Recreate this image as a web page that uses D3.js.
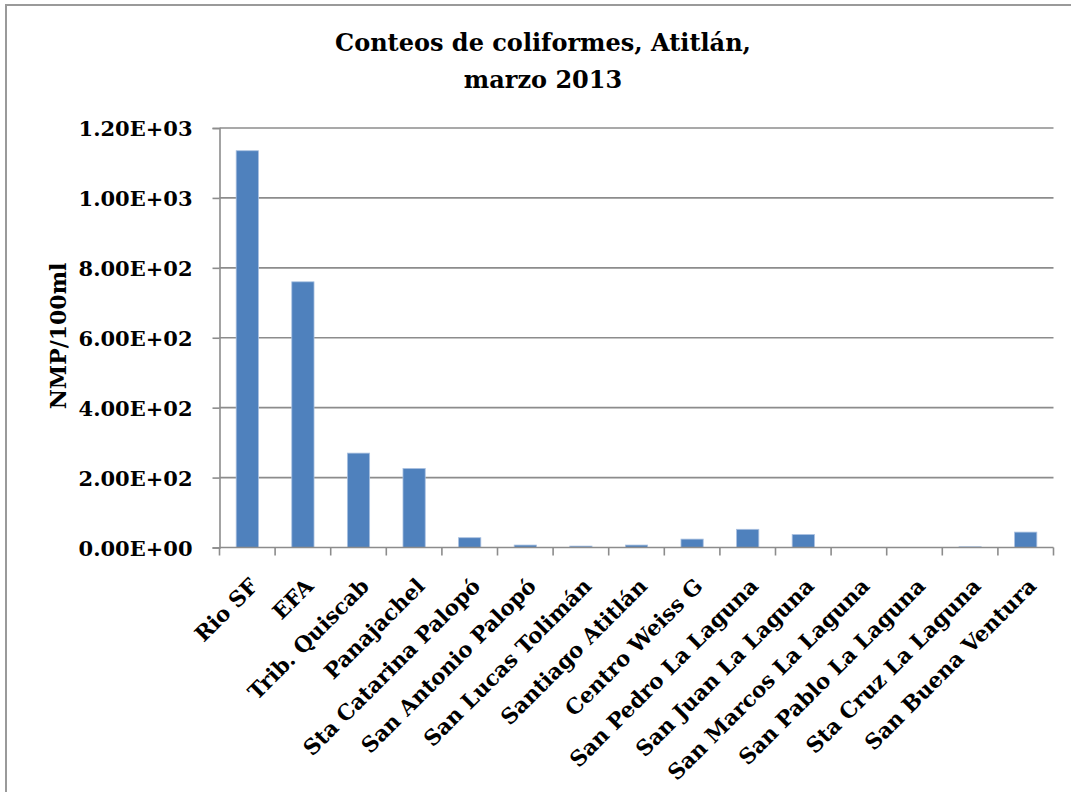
<!DOCTYPE html>
<html>
<head>
<meta charset="utf-8">
<script src="https://cdn.jsdelivr.net/npm/d3@7"></script>
<style>
  body { margin: 0; background: #fff; }
  text { font-family: "DejaVu Serif", serif; font-weight: bold; fill: #000; }
</style>
</head>
<body>
<div id="chart"></div>
<script>
// coliform counts (NMP/100ml) per sampling site
var sites = ["Rio SF", "EFA", "Trib. Quiscab", "Panajachel", "Sta Catarina Palopó",
    "San Antonio Palopó", "San Lucas Tolimán", "Santiago Atitlán", "Centro Weiss G",
    "San Pedro La Laguna", "San Juan La Laguna", "San Marcos La Laguna",
    "San Pablo La Laguna", "Sta Cruz La Laguna", "San Buena Ventura"];
var counts = [1135, 760, 270, 226, 28, 7, 4, 7, 24, 52, 37, 0, 0, 2, 44];
var yTicks = [0, 200, 400, 600, 800, 1000, 1200];
var titleLines = ["Conteos de coliformes, Atitlán,", "marzo 2013"];
var yTitle = "NMP/100ml";

const width = 1071, height = 792,
    margin = {left: 219.5, top: 128, right: 17.5, bottom: 244.5},
    plotW = width - margin.left - margin.right,
    plotH = height - margin.top - margin.bottom;

const svg = d3.select("#chart").append("svg")
    .attr("width", width)
    .attr("height", height);

// outer chart frame (right/bottom edges fall outside the picture)
svg.append("rect")
    .attr("x", 6).attr("y", 5)
    .attr("width", width + 10).attr("height", height + 10)
    .attr("fill", "none")
    .attr("stroke", "#9a9a9a")
    .attr("stroke-width", 2);

const x = d3.scaleBand()
    .domain(sites)
    .range([0, plotW])
    .paddingInner(0.6)
    .paddingOuter(0.3);

const y = d3.scaleLinear()
    .domain([0, 1200])
    .range([plotH, 0]);

const g = svg.append("g")
    .attr("transform", `translate(${margin.left},${margin.top})`);

// gridlines
g.selectAll(".grid").data(yTicks.slice(1)).enter()
    .append("line")
    .attr("class", "grid")
    .attr("x1", 0).attr("x2", plotW)
    .attr("y1", d => y(d)).attr("y2", d => y(d))
    .attr("stroke", "#8c8c8c")
    .attr("stroke-width", 1.6);

// y axis
const yAxis = g.append("g")
    .call(d3.axisLeft(y).tickValues(yTicks).tickSize(7).tickPadding(20)
        .tickFormat(d => d3.format(".2e")(d).replace("e", "E").replace(/E([+-])(\d)$/, "E$10$2")));
yAxis.select(".domain").attr("stroke", "#8c8c8c").attr("stroke-width", 1.6);
yAxis.selectAll(".tick line").attr("stroke", "#8c8c8c").attr("stroke-width", 1.6);
yAxis.selectAll(".tick text").style("font-size", "21px").attr("dy", "0.36em");

// bars
g.selectAll(".bar").data(counts).enter()
    .append("rect")
    .attr("class", "bar")
    .attr("x", (d, i) => x(sites[i]))
    .attr("y", d => y(d))
    .attr("width", x.bandwidth())
    .attr("height", d => plotH - y(d))
    .attr("fill", "#4f81bd")
    .attr("stroke", "#a9c0e0")
    .attr("stroke-width", 0.8);

// x axis line and ticks at band boundaries
g.append("line")
    .attr("x1", 0).attr("x2", plotW)
    .attr("y1", plotH).attr("y2", plotH)
    .attr("stroke", "#8c8c8c").attr("stroke-width", 1.6);
var boundaries = d3.range(sites.length + 1).map(i => i * x.step());
g.selectAll(".xtick").data(boundaries).enter()
    .append("line")
    .attr("x1", d => d).attr("x2", d => d)
    .attr("y1", plotH).attr("y2", plotH + 8)
    .attr("stroke", "#8c8c8c").attr("stroke-width", 1.6);

// category labels, rotated
g.selectAll(".xlab").data(sites).enter()
    .append("text")
    .attr("class", "xlab")
    .attr("text-anchor", "end")
    .attr("transform", d => `translate(${x(d) + x.bandwidth() / 2 + 12},${plotH + 40}) rotate(-45)`)
    .style("font-size", "21.5px")
    .text(d => d);

// y axis title
svg.append("text")
    .attr("transform", "translate(66,336) rotate(-90)")
    .attr("text-anchor", "middle")
    .style("font-size", "22px")
    .text(yTitle);

// chart title
svg.selectAll(".title").data(titleLines).enter()
    .append("text")
    .attr("class", "title")
    .attr("x", 543)
    .attr("y", (d, i) => 51 + i * 37)
    .attr("text-anchor", "middle")
    .style("font-size", "24px")
    .text(d => d);
</script>
</body>
</html>
